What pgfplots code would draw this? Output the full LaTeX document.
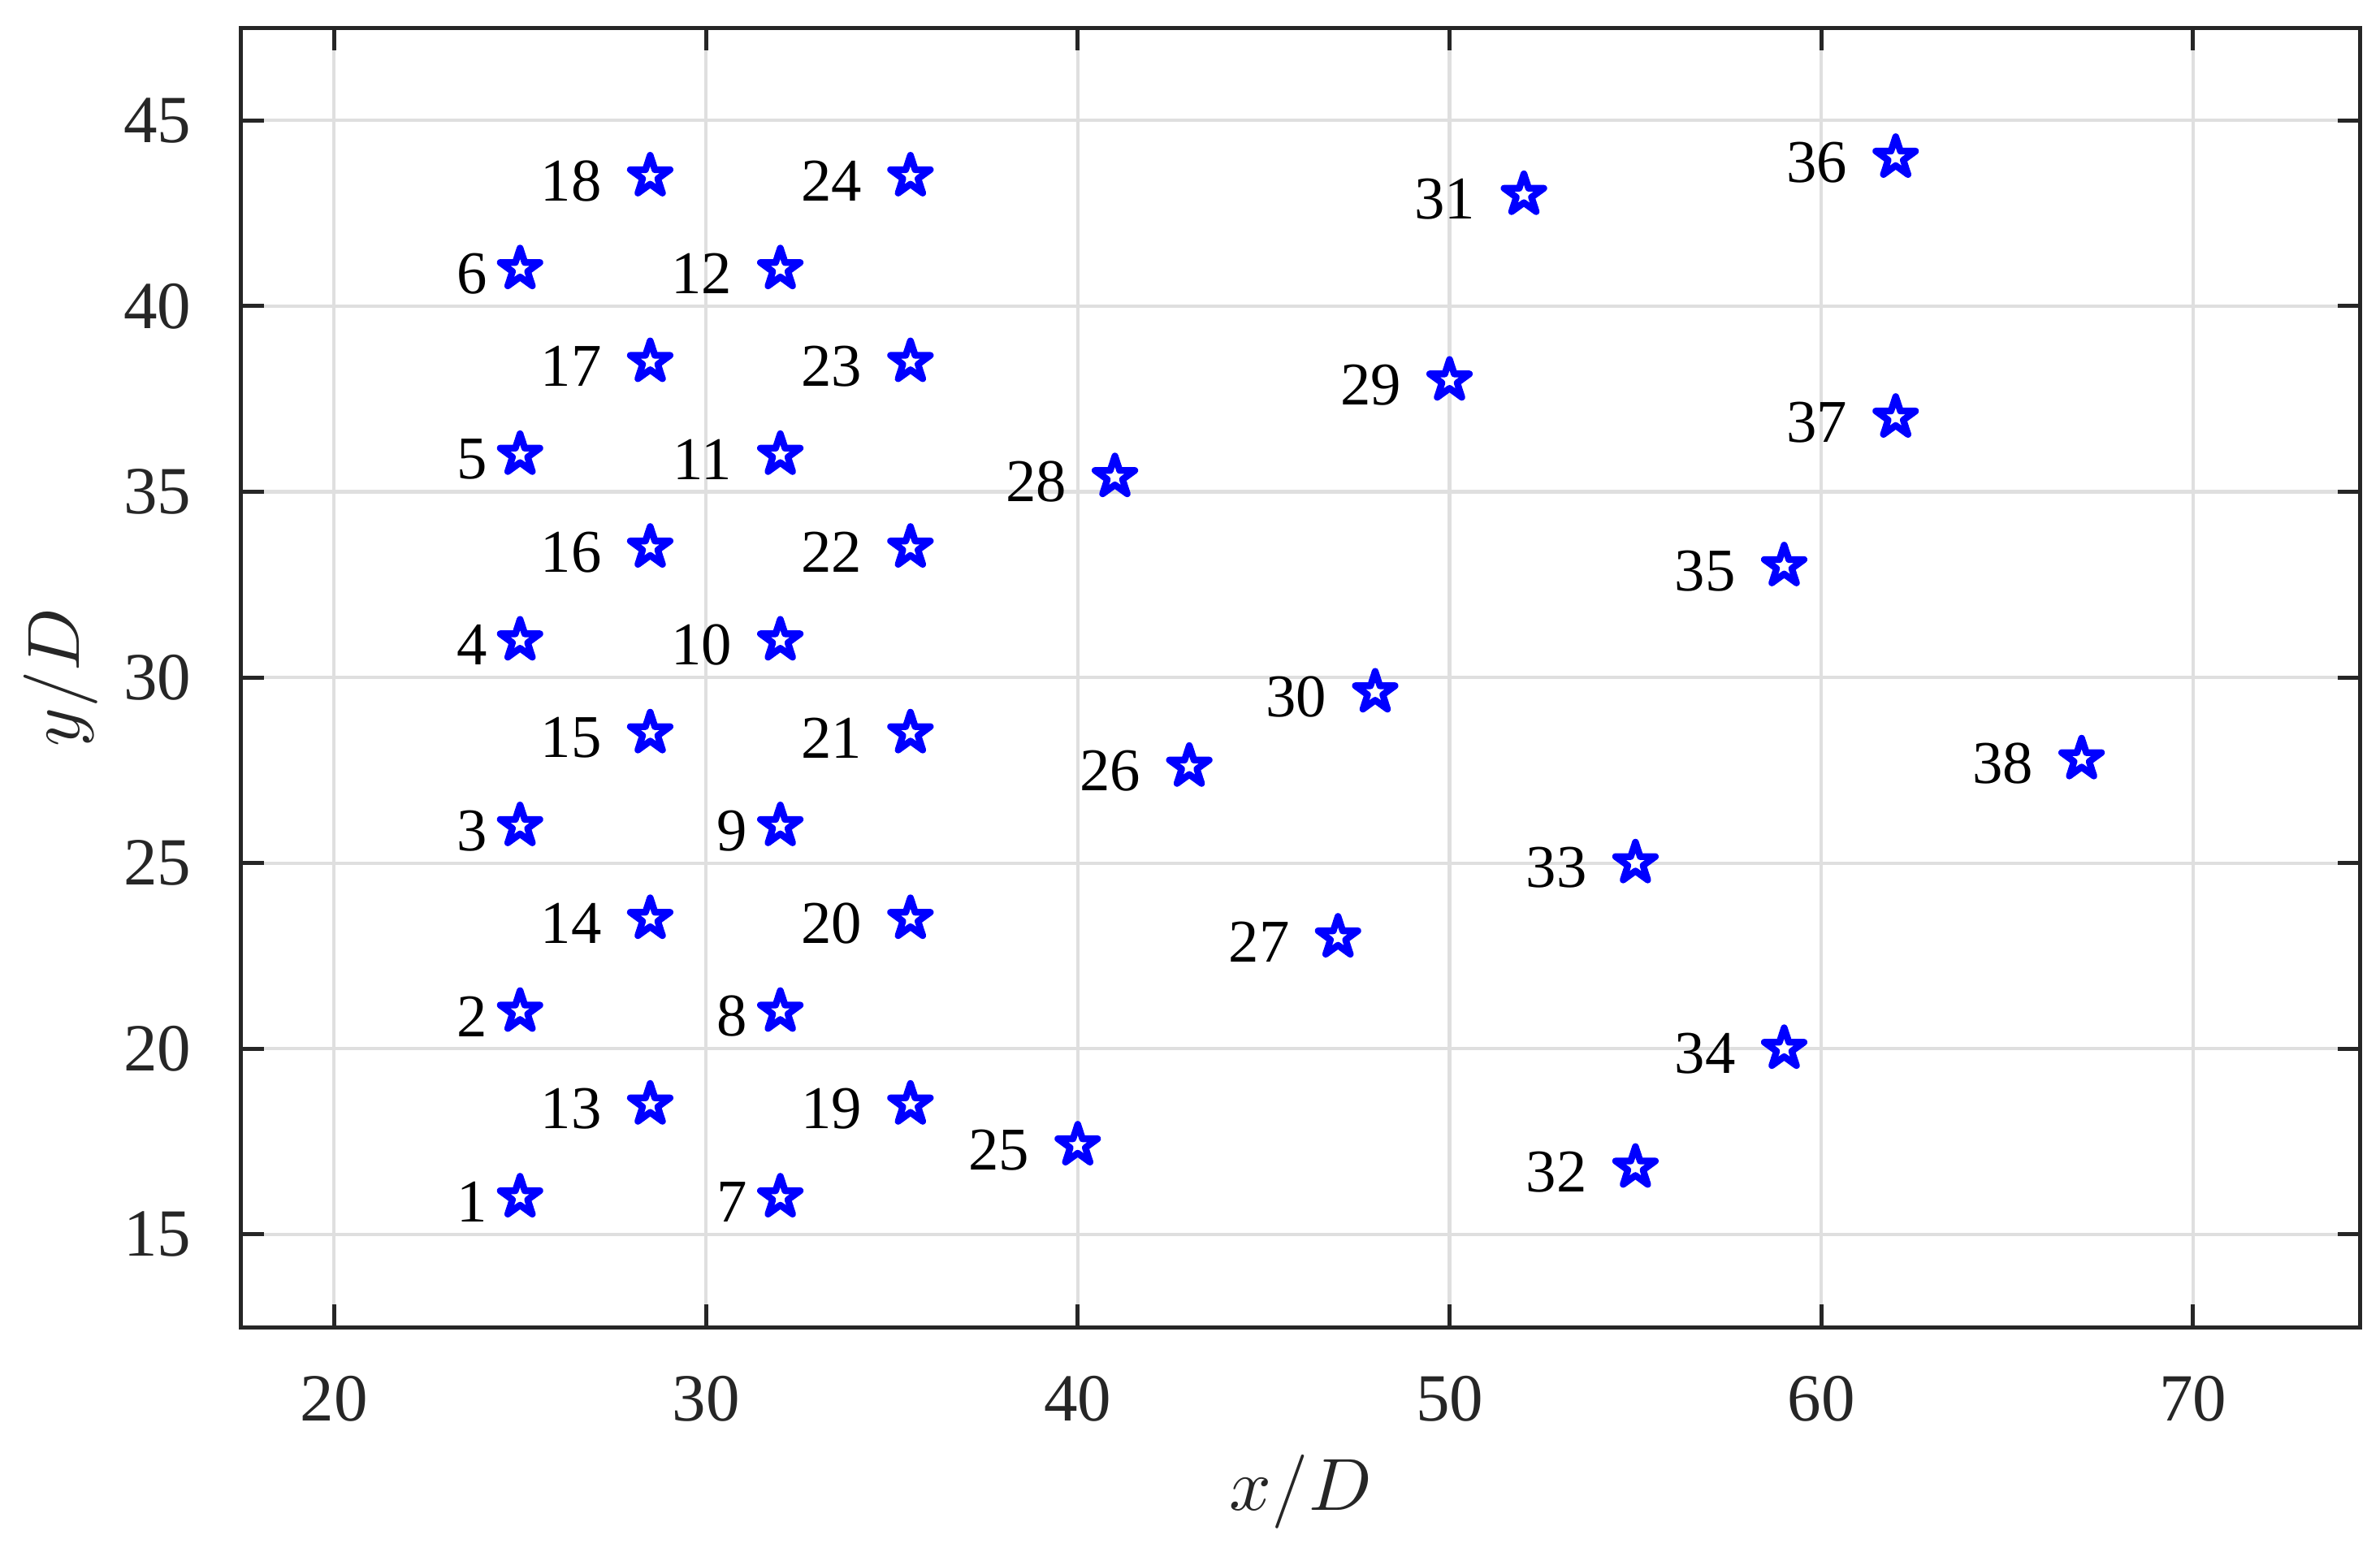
\documentclass[border=0pt]{standalone}
\usepackage{fontspec}
\setmainfont{Liberation Serif}
\usepackage{pgfplots}
\usepackage{pgfplotstable}
\pgfplotsset{compat=1.18}

\definecolor{axgray}{RGB}{38,38,38}
\definecolor{gridgray}{RGB}{223,223,223}

% MATLAB-like pentagram marker
\pgfdeclareplotmark{pentagram}{%
  \pgfpathmoveto{\pgfpointpolar{90}{\pgfplotmarksize}}%
  \pgfpathlineto{\pgfpointpolar{126}{0.382\pgfplotmarksize}}%
  \pgfpathlineto{\pgfpointpolar{162}{\pgfplotmarksize}}%
  \pgfpathlineto{\pgfpointpolar{198}{0.382\pgfplotmarksize}}%
  \pgfpathlineto{\pgfpointpolar{234}{\pgfplotmarksize}}%
  \pgfpathlineto{\pgfpointpolar{270}{0.382\pgfplotmarksize}}%
  \pgfpathlineto{\pgfpointpolar{306}{\pgfplotmarksize}}%
  \pgfpathlineto{\pgfpointpolar{342}{0.382\pgfplotmarksize}}%
  \pgfpathlineto{\pgfpointpolar{18}{\pgfplotmarksize}}%
  \pgfpathlineto{\pgfpointpolar{54}{0.382\pgfplotmarksize}}%
  \pgfpathclose
  \pgfusepathqfillstroke
}

% one-digit labels
\pgfplotstableread{
x y lab
25 16 1
25 21 2
25 26 3
25 31 4
25 36 5
25 41 6
32 16 7
32 21 8
32 26 9
}\singles

% two-digit labels
\pgfplotstableread{
x y lab
32 31 10
32 36 11
32 41 12
28.5 18.5 13
28.5 23.5 14
28.5 28.5 15
28.5 33.5 16
28.5 38.5 17
28.5 43.5 18
35.5 18.5 19
35.5 23.5 20
35.5 28.5 21
35.5 33.5 22
35.5 38.5 23
35.5 43.5 24
40 17.4 25
43 27.6 26
47 23 27
41 35.4 28
50 38 29
48 29.6 30
52 43 31
55 16.8 32
55 25 33
59 20 34
59 33 35
62 44 36
62 37 37
67 27.8 38
}\doubles

\pgfplotsset{
  probe/.style={only marks, mark=pentagram, mark size=3.1pt, blue,
    mark options={fill=white, line width=1pt, line join=round},
    nodes near coords, point meta=explicit symbolic,
    every node near coord/.append style={anchor=east, inner sep=0pt,
      text=black, font=\fontsize{9}{10}\selectfont, yshift=-0.7pt}},
}

\begin{document}
\begin{tikzpicture}
\useasboundingbox (-1.257,-1.147) rectangle (11.146,6.917);
\begin{axis}[
  at={(0,0)}, anchor=south west,
  scale only axis, width=11.044cm, height=6.773cm,
  xmin=17.5, xmax=74.5, ymin=12.5, ymax=47.5,
  xtick={20,30,...,70}, ytick={15,20,...,45},
  grid=major, grid style={gridgray, line width=0.5pt},
  axis line style={axgray, line width=0.6pt},
  tick style={axgray, line width=0.6pt},
  major tick length=3.4pt, tick align=inside,
  /pgf/number format/assume math mode=true,
  tick label style={font=\fontsize{10}{12}\selectfont, text=axgray, inner sep=0pt},
  xticklabel style={anchor=north, yshift=-7.1pt},
  yticklabel style={anchor=east, xshift=-7.2pt},
  xlabel={$x/D$}, ylabel={$y/D$},
  every axis x label/.style={at={([yshift=-27.1pt]axis description cs:0.5,0)},
    anchor=base, inner sep=0pt, text=axgray, font=\fontsize{11}{13}\selectfont},
  every axis y label/.style={at={([xshift=-24pt]axis description cs:0,0.5)},
    rotate=90, anchor=base, inner sep=0pt, text=axgray, font=\fontsize{11}{13}\selectfont},
]
\addplot[probe, every node near coord/.append style={xshift=-4.4pt}]
  table[x=x, y=y, meta=lab] {\singles};
\addplot[probe, every node near coord/.append style={xshift=-6.7pt}]
  table[x=x, y=y, meta=lab] {\doubles};
\end{axis}
\end{tikzpicture}
\end{document}
